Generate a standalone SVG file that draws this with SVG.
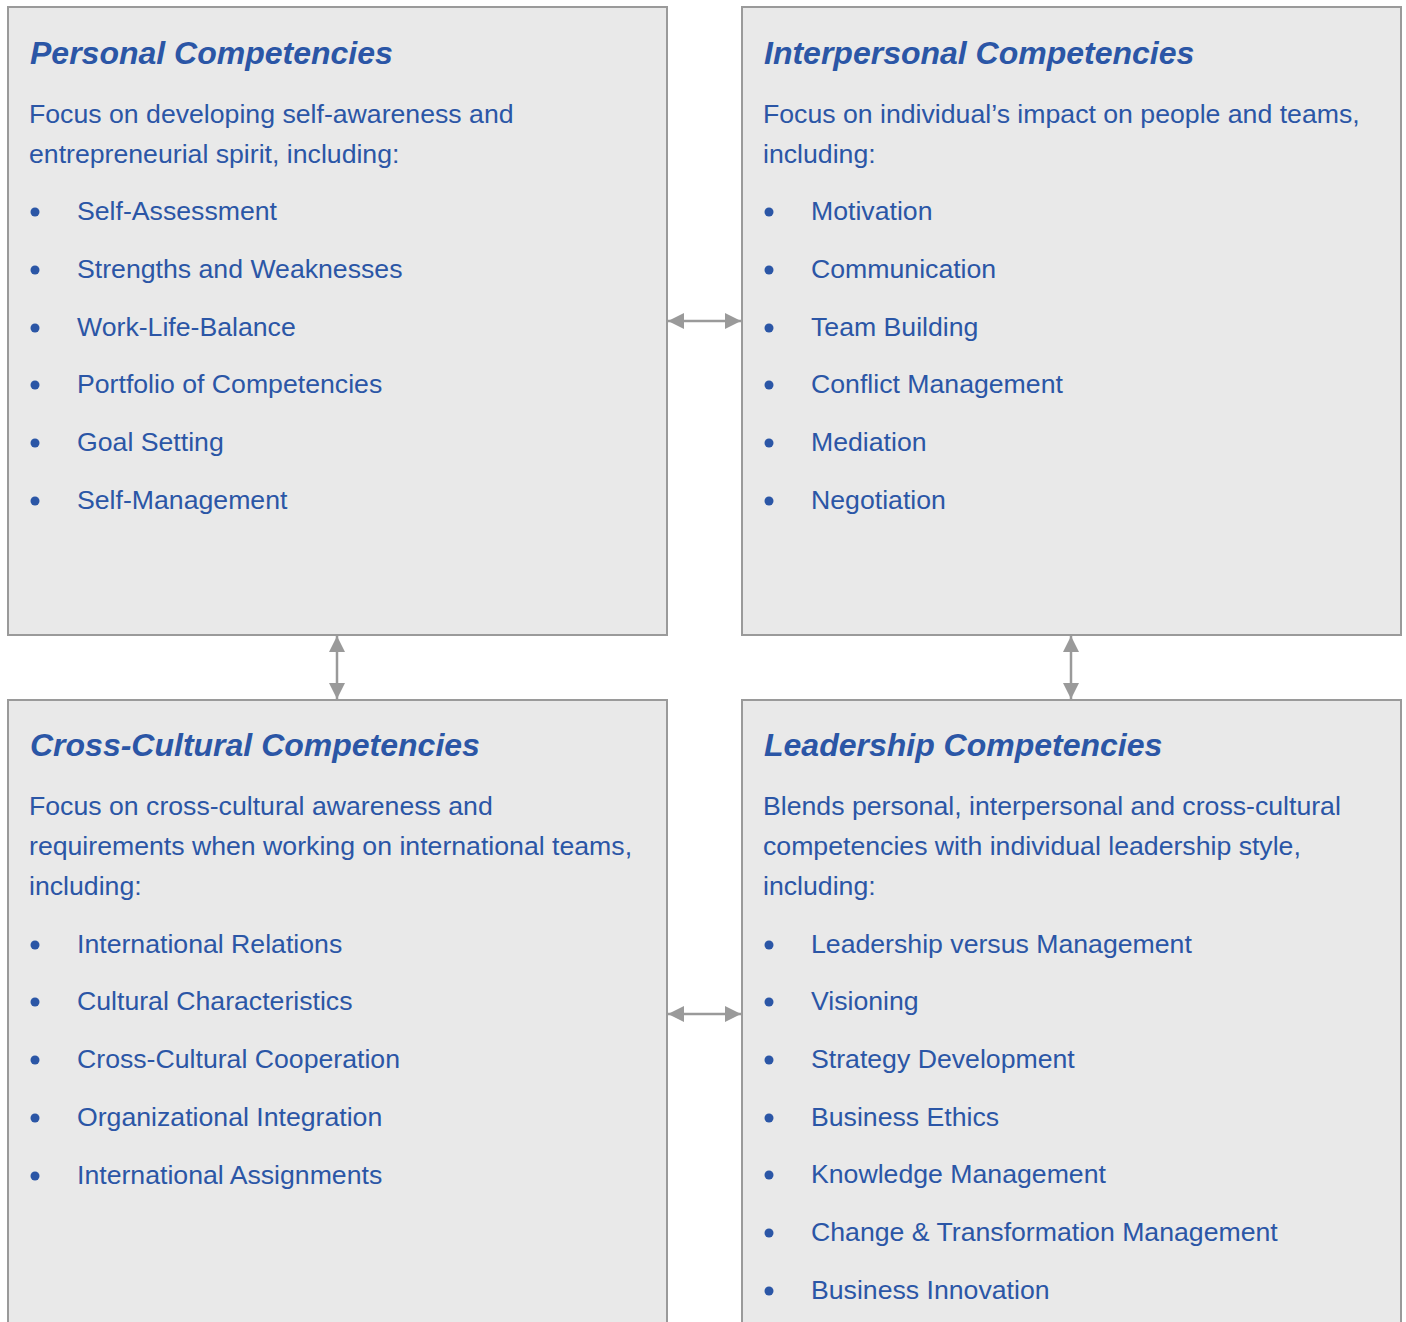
<svg xmlns="http://www.w3.org/2000/svg" width="1406" height="1322" viewBox="0 0 1406 1322">
<style>
.box{fill:#e9e9e9;stroke:#9a9a9a;stroke-width:2}
.t{font-family:"Liberation Sans",Arial,sans-serif;fill:#2b56a6}
.h{font-size:32px;font-weight:bold;font-style:italic}
.b{font-size:26.67px}
.d{fill:#2b56a6}
.c{stroke:#9a9a9a;stroke-width:2.5;fill:none}
</style>
<defs>
<marker id="ah" viewBox="0 0 10 10" refX="10" refY="5" markerWidth="16" markerHeight="16" markerUnits="userSpaceOnUse" orient="auto-start-reverse">
<path d="M0,0 L10,5 L0,10 Z" fill="#9a9a9a"/>
</marker>
</defs>
<rect width="1406" height="1322" fill="#fff"/>
<g id="connectors">
<line class="c" x1="668" y1="321" x2="741" y2="321" marker-start="url(#ah)" marker-end="url(#ah)"/>
<line class="c" x1="668" y1="1014" x2="741" y2="1014" marker-start="url(#ah)" marker-end="url(#ah)"/>
<line class="c" x1="337" y1="636" x2="337" y2="699" marker-start="url(#ah)" marker-end="url(#ah)"/>
<line class="c" x1="1071" y1="636" x2="1071" y2="699" marker-start="url(#ah)" marker-end="url(#ah)"/>
</g>
<g id="personal">
<rect class="box" x="8" y="7" width="659" height="628"/>
<text class="t h" x="30" y="64">Personal Competencies</text>
<text class="t b" x="29" y="123">Focus on developing self-awareness and</text>
<text class="t b" x="29" y="163">entrepreneurial spirit, including:</text>
<g class="d"><circle cx="35" cy="212" r="4.5"/><circle cx="35" cy="270" r="4.5"/><circle cx="35" cy="328" r="4.5"/><circle cx="35" cy="385" r="4.5"/><circle cx="35" cy="443" r="4.5"/><circle cx="35" cy="501" r="4.5"/></g>
<text class="t b" x="77" y="220">Self-Assessment</text>
<text class="t b" x="77" y="278">Strengths and Weaknesses</text>
<text class="t b" x="77" y="336">Work-Life-Balance</text>
<text class="t b" x="77" y="393">Portfolio of Competencies</text>
<text class="t b" x="77" y="451">Goal Setting</text>
<text class="t b" x="77" y="509">Self-Management</text>
</g>
<g id="interpersonal">
<rect class="box" x="742" y="7" width="659" height="628"/>
<text class="t h" x="764" y="64">Interpersonal Competencies</text>
<text class="t b" x="763" y="123">Focus on individual’s impact on people and teams,</text>
<text class="t b" x="763" y="163">including:</text>
<g class="d"><circle cx="769" cy="212" r="4.5"/><circle cx="769" cy="270" r="4.5"/><circle cx="769" cy="328" r="4.5"/><circle cx="769" cy="385" r="4.5"/><circle cx="769" cy="443" r="4.5"/><circle cx="769" cy="501" r="4.5"/></g>
<text class="t b" x="811" y="220">Motivation</text>
<text class="t b" x="811" y="278">Communication</text>
<text class="t b" x="811" y="336">Team Building</text>
<text class="t b" x="811" y="393">Conflict Management</text>
<text class="t b" x="811" y="451">Mediation</text>
<text class="t b" x="811" y="509">Negotiation</text>
</g>
<g id="crosscultural">
<rect class="box" x="8" y="700" width="659" height="640"/>
<text class="t h" x="30" y="756">Cross-Cultural Competencies</text>
<text class="t b" x="29" y="815">Focus on cross-cultural awareness and</text>
<text class="t b" x="29" y="855">requirements when working on international teams,</text>
<text class="t b" x="29" y="895">including:</text>
<g class="d"><circle cx="35" cy="945" r="4.5"/><circle cx="35" cy="1002" r="4.5"/><circle cx="35" cy="1060" r="4.5"/><circle cx="35" cy="1118" r="4.5"/><circle cx="35" cy="1176" r="4.5"/></g>
<text class="t b" x="77" y="953">International Relations</text>
<text class="t b" x="77" y="1010">Cultural Characteristics</text>
<text class="t b" x="77" y="1068">Cross-Cultural Cooperation</text>
<text class="t b" x="77" y="1126">Organizational Integration</text>
<text class="t b" x="77" y="1184">International Assignments</text>
</g>
<g id="leadership">
<rect class="box" x="742" y="700" width="659" height="640"/>
<text class="t h" x="764" y="756">Leadership Competencies</text>
<text class="t b" x="763" y="815">Blends personal, interpersonal and cross-cultural</text>
<text class="t b" x="763" y="855">competencies with individual leadership style,</text>
<text class="t b" x="763" y="895">including:</text>
<g class="d"><circle cx="769" cy="945" r="4.5"/><circle cx="769" cy="1002" r="4.5"/><circle cx="769" cy="1060" r="4.5"/><circle cx="769" cy="1118" r="4.5"/><circle cx="769" cy="1175" r="4.5"/><circle cx="769" cy="1233" r="4.5"/><circle cx="769" cy="1291" r="4.5"/></g>
<text class="t b" x="811" y="953">Leadership versus Management</text>
<text class="t b" x="811" y="1010">Visioning</text>
<text class="t b" x="811" y="1068">Strategy Development</text>
<text class="t b" x="811" y="1126">Business Ethics</text>
<text class="t b" x="811" y="1183">Knowledge Management</text>
<text class="t b" x="811" y="1241">Change &amp; Transformation Management</text>
<text class="t b" x="811" y="1299">Business Innovation</text>
</g>
</svg>
